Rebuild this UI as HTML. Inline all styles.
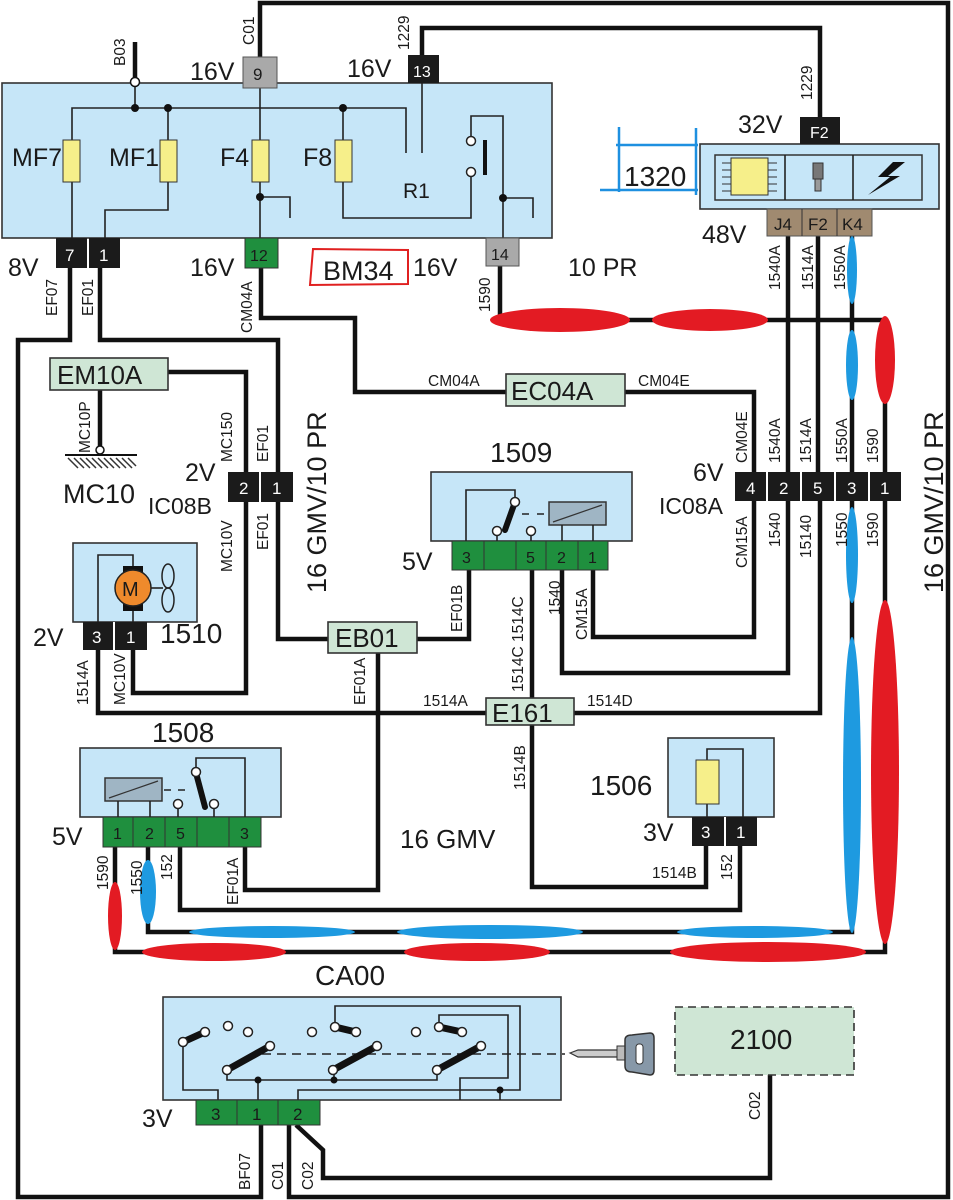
<!DOCTYPE html>
<html><head><meta charset="utf-8"><style>
html,body{margin:0;padding:0;background:#fff}
svg{display:block}
text{font-family:"Liberation Sans",Arial,sans-serif;fill:#1a1a1a}
.w{fill:none;stroke:#111;stroke-width:4.5}
.t{fill:none;stroke:#222;stroke-width:1.6}
.box{fill:#c6e6f8;stroke:#333;stroke-width:1.6}
.conn{fill:#cfe6d5;stroke:#333;stroke-width:1.6}
.bp{fill:#1b1b1b}
.gp{fill:#1f8f3e;stroke:#333;stroke-width:1}
.gy{fill:#a9a9a9;stroke:#555;stroke-width:1}
.br{fill:#a08a70;stroke:#555;stroke-width:1}
.r{fill:#e31b23}
.b{fill:#1e9ae0}
.s{font-size:15.5px}
.L{font-size:25px}
.XL{font-size:28px}
</style></head><body>
<svg width="953" height="1200" viewBox="0 0 953 1200" xmlns="http://www.w3.org/2000/svg">

<polyline class="w" points="260,57 260,3 948,3 948,1197 289,1197 289,1125"/>
<polyline class="w" points="261,1125 261,1197 18,1197 18,340 70,340 70,268"/>
<polyline class="w" points="422,55 422,28 820,28 820,117"/>
<polyline class="w" points="135,42 135,82"/>
<polyline class="w" points="100,268 100,340 278,340 278,639 330,639"/>
<polyline class="w" points="261,268 261,318 355,318 355,392 506,392"/>
<polyline class="w" points="625,392 754,392 754,472"/>
<polyline class="w" points="500,266 500,320 885,320 885,472"/>
<polyline class="w" points="788,236 788,472"/>
<polyline class="w" points="818,236 818,472"/>
<polyline class="w" points="852,236 852,472"/>
<polyline class="w" points="754,501 754,637 593,637 593,570"/>
<polyline class="w" points="788,501 788,673 562,673 562,570"/>
<polyline class="w" points="820,501 820,713 574,713"/>
<polyline class="w" points="852,501 852,932 148,932 148,847"/>
<polyline class="w" points="885,501 885,952 115,952 115,847"/>
<polyline class="w" points="469,570 469,639 417,639"/>
<polyline class="w" points="532,570 532,698"/>
<polyline class="w" points="532,725 532,887 706,887 706,846"/>
<polyline class="w" points="168,372 246,372 246,472"/>
<polyline class="w" points="100,390 100,450"/>
<polyline class="w" points="246,502 246,693 133,693 133,650"/>
<polyline class="w" points="98,650 98,713 486,713"/>
<polyline class="w" points="378,653 378,890 245,890 245,847"/>
<polyline class="w" points="180,847 180,910 740,910 740,846"/>
<polyline class="w" points="296,1125 323,1150 323,1178 770,1178 770,1075"/>

<ellipse class="r" cx="560" cy="320" rx="70" ry="12"/>
<ellipse class="r" cx="710" cy="320" rx="58" ry="11"/>
<ellipse class="r" cx="885" cy="360" rx="10" ry="44"/>
<ellipse class="r" cx="885" cy="772" rx="14" ry="172"/>
<ellipse class="r" cx="214" cy="952" rx="72" ry="9"/>
<ellipse class="r" cx="477" cy="952" rx="73" ry="9"/>
<ellipse class="r" cx="768" cy="952" rx="98" ry="10"/>
<ellipse class="r" cx="115" cy="916" rx="7" ry="34"/>
<ellipse class="b" cx="852" cy="270" rx="5" ry="34"/>
<ellipse class="b" cx="852" cy="365" rx="6" ry="35"/>
<ellipse class="b" cx="852" cy="555" rx="6" ry="48"/>
<ellipse class="b" cx="852" cy="785" rx="9" ry="148"/>
<ellipse class="b" cx="272" cy="932" rx="83" ry="6"/>
<ellipse class="b" cx="490" cy="932" rx="93" ry="7"/>
<ellipse class="b" cx="755" cy="932" rx="78" ry="6"/>
<ellipse class="b" cx="148" cy="892" rx="8" ry="32"/>

<rect class="box" x="2" y="83" width="550" height="155"/>
<polyline class="t" points="72,238 72,108 406,108 406,153"/>
<line class="t" x1="135" y1="82" x2="135" y2="108"/>
<polyline class="t" points="168,108 168,210 105,210 105,238"/>
<line class="t" x1="260" y1="88" x2="260" y2="238"/>
<polyline class="t" points="260,197 290,197 290,218"/>
<polyline class="t" points="343,108 343,218 471,218 471,176"/>
<line class="t" x1="422" y1="83" x2="422" y2="153"/>
<polyline class="t" points="471,137 471,116 503,116 503,238"/>
<polyline class="t" points="503,198 533,198 533,218"/>
<circle cx="135" cy="108" r="4" fill="#111"/><circle cx="168" cy="108" r="4" fill="#111"/>
<circle cx="343" cy="108" r="4" fill="#111"/><circle cx="260" cy="197" r="4" fill="#111"/>
<circle cx="503" cy="198" r="4" fill="#111"/>
<circle cx="135" cy="82" r="4.5" fill="#fff" stroke="#111" stroke-width="1.5"/>
<circle cx="471" cy="141" r="4.5" fill="#fff" stroke="#222" stroke-width="1.5"/>
<circle cx="471" cy="172" r="4.5" fill="#fff" stroke="#222" stroke-width="1.5"/>
<rect x="483" y="140" width="4" height="35" fill="#111"/>
<rect x="63" y="140" width="17" height="42" fill="#f6ef8a" stroke="#333"/>
<rect x="160" y="140" width="17" height="42" fill="#f6ef8a" stroke="#333"/>
<rect x="252" y="140" width="17" height="42" fill="#f6ef8a" stroke="#333"/>
<rect x="335" y="140" width="17" height="42" fill="#f6ef8a" stroke="#333"/>
<text x="12" y="166" class="L">MF7</text>
<text x="109" y="166" class="L">MF1</text>
<text x="220" y="166" class="L">F4</text>
<text x="303" y="166" class="L">F8</text>
<text x="403" y="198" style="font-size:21px">R1</text>
<rect class="gy" x="243" y="57" width="34" height="31"/><text x="253" y="80" style="font-size:17px">9</text>
<rect class="bp" x="408" y="55" width="31" height="28"/><text x="413" y="77" style="font-size:16px;fill:#fff">13</text>
<rect class="bp" x="56" y="238" width="31" height="30"/><text x="65" y="261" style="font-size:17px;fill:#fff">7</text>
<rect class="bp" x="89" y="238" width="31" height="30"/><text x="99" y="261" style="font-size:17px;fill:#fff">1</text>
<rect class="gp" x="245" y="238" width="33" height="30"/><text x="250" y="261" style="font-size:16px">12</text>
<rect class="gy" x="486" y="238" width="33" height="28"/><text x="491" y="260" style="font-size:16px">14</text>
<text x="190" y="80" class="L">16V</text>
<text x="347" y="77" class="L">16V</text>
<text x="8" y="276" class="L">8V</text>
<text x="190" y="276" class="L">16V</text>
<text x="413" y="276" class="L">16V</text>
<path d="M313,249 L408,250 L408,284 L310,285 Z" fill="none" stroke="#e02020" stroke-width="2"/>
<text x="323" y="280" style="font-size:27px">BM34</text>
<text x="568" y="276" class="L">10 PR</text>

<rect class="box" x="700" y="144" width="239" height="65"/>
<rect x="715" y="155" width="207" height="45" fill="none" stroke="#333" stroke-width="1.5"/>
<line class="t" x1="785" y1="155" x2="785" y2="200"/><line class="t" x1="853" y1="155" x2="853" y2="200"/>
<rect x="731" y="158" width="37" height="37" fill="#f6ef8a" stroke="#333"/>
<path d="M722,163h9M722,170h9M722,177h9M722,184h9M722,191h9M768,163h9M768,170h9M768,177h9M768,184h9M768,191h9" stroke="#333" stroke-width="1"/>
<rect x="813" y="163" width="10" height="16" fill="#777" stroke="#333"/><rect x="815" y="179" width="6" height="12" fill="#999" stroke="#333"/>
<path d="M893,162 L878,177 L890,177 L868,195 L900,176 L888,176 L905,162 Z" fill="#111"/>
<rect class="bp" x="800" y="117" width="40" height="27"/><text x="810" y="138" style="font-size:16px;fill:#fff">F2</text>
<rect class="br" x="767" y="209" width="105" height="27"/>
<line x1="802" y1="209" x2="802" y2="236" stroke="#333"/><line x1="837" y1="209" x2="837" y2="236" stroke="#333"/>
<text x="774" y="230" style="font-size:17px">J4</text><text x="808" y="230" style="font-size:17px">F2</text><text x="842" y="230" style="font-size:17px">K4</text>
<text x="738" y="133" class="L">32V</text>
<text x="702" y="243" class="L">48V</text>
<path d="M616,145 H698 M600,190 H698 M619,127 V192 M696,128 V195" stroke="#1e90e0" stroke-width="2.5" fill="none"/>
<text x="624" y="186" style="font-size:28px">1320</text>

<rect class="conn" x="506" y="374" width="119" height="32"/><text x="511" y="400" style="font-size:26px">EC04A</text>
<text x="428" y="386" class="s">CM04A</text><text x="638" y="386" class="s">CM04E</text>
<rect class="bp" x="735" y="472" width="166" height="29"/>
<path d="M767,472v29M801,472v29M835,472v29M869,472v29" stroke="#fff" stroke-width="2"/>
<text x="746" y="494" style="font-size:17px;fill:#fff">4</text><text x="779" y="494" style="font-size:17px;fill:#fff">2</text>
<text x="813" y="494" style="font-size:17px;fill:#fff">5</text><text x="847" y="494" style="font-size:17px;fill:#fff">3</text>
<text x="880" y="494" style="font-size:17px;fill:#fff">1</text>
<text x="693" y="481" class="L">6V</text>
<text x="659" y="514" style="font-size:23px">IC08A</text>
<text transform="translate(943,593) rotate(-90)" style="font-size:27px">16 GMV/10 PR</text>
<text transform="translate(326,593) rotate(-90)" style="font-size:27px">16 GMV/10 PR</text>

<rect class="box" x="431" y="472" width="201" height="69"/>
<rect class="gp" x="452" y="541" width="156" height="29"/>
<path d="M484,541v29M516,541v29M546,541v29M578,541v29" stroke="#333"/>
<text x="462" y="563" style="font-size:16px">3</text><text x="526" y="563" style="font-size:16px">5</text>
<text x="557" y="563" style="font-size:16px">2</text><text x="588" y="563" style="font-size:16px">1</text>
<polyline class="t" points="466,541 466,490 515,490 515,498"/>
<line class="t" x1="497" y1="541" x2="497" y2="535"/><line class="t" x1="531" y1="541" x2="531" y2="535"/>
<circle cx="497" cy="531" r="4.5" fill="#fff" stroke="#222" stroke-width="1.5"/>
<circle cx="531" cy="531" r="4.5" fill="#fff" stroke="#222" stroke-width="1.5"/>
<line x1="515" y1="502" x2="505" y2="530" stroke="#111" stroke-width="6" stroke-linecap="round"/>
<circle cx="515" cy="502" r="4.5" fill="#fff" stroke="#222" stroke-width="1.5"/>
<path d="M522,514h7M537,514h7" stroke="#222" stroke-width="1.5"/>
<rect x="549" y="502" width="57" height="23" fill="#9fb5c4" stroke="#333" stroke-width="1.5"/>
<line x1="553" y1="522" x2="602" y2="505" stroke="#333" stroke-width="1.2"/>
<line class="t" x1="562" y1="525" x2="562" y2="541"/><line class="t" x1="593" y1="525" x2="593" y2="541"/>
<text x="490" y="462" class="XL">1509</text>
<text x="402" y="570" class="L">5V</text>

<rect class="conn" x="50" y="358" width="118" height="32"/><text x="57" y="384" style="font-size:26px">EM10A</text>
<circle cx="100" cy="450" r="4" fill="#fff" stroke="#111" stroke-width="1.5"/>
<line x1="65" y1="455" x2="137" y2="455" stroke="#111" stroke-width="2"/>
<path d="M68,458l10,10M74,458l10,10M80,458l10,10M86,458l10,10M92,458l10,10M98,458l10,10M104,458l10,10M110,458l10,10M116,458l10,10M122,458l10,10M128,458l8,8" stroke="#333" stroke-width="1.5"/>
<text x="63" y="503" style="font-size:27px">MC10</text>
<rect class="bp" x="228" y="472" width="65" height="30"/><line x1="260" y1="472" x2="260" y2="502" stroke="#fff" stroke-width="2"/>
<text x="239" y="494" style="font-size:17px;fill:#fff">2</text><text x="272" y="494" style="font-size:17px;fill:#fff">1</text>
<text x="185" y="481" class="L">2V</text>
<text x="148" y="514" style="font-size:23px">IC08B</text>
<rect class="box" x="73" y="543" width="124" height="79"/>
<polyline class="t" points="98,622 98,555 133,555 133,622"/>
<rect x="123" y="566" width="20" height="45" fill="#111"/>
<circle cx="133" cy="588" r="18" fill="#ef8a2c" stroke="#222" stroke-width="1.5"/>
<text x="122" y="596" style="font-size:20px">M</text>
<line class="t" x1="151" y1="588" x2="163" y2="588"/>
<ellipse cx="168" cy="576" rx="6" ry="12" fill="none" stroke="#222" stroke-width="1.5"/>
<ellipse cx="168" cy="600" rx="6" ry="12" fill="none" stroke="#222" stroke-width="1.5"/>
<rect class="bp" x="83" y="622" width="64" height="28"/><line x1="114" y1="622" x2="114" y2="650" stroke="#fff" stroke-width="2"/>
<text x="92" y="643" style="font-size:17px;fill:#fff">3</text><text x="126" y="643" style="font-size:17px;fill:#fff">1</text>
<text x="160" y="643" class="XL">1510</text>
<text x="33" y="646" class="L">2V</text>
<rect class="conn" x="328" y="622" width="89" height="31"/><text x="335" y="647" style="font-size:26px">EB01</text>
<rect class="conn" x="486" y="698" width="88" height="27"/><text x="492" y="722" style="font-size:26px">E161</text>
<text x="423" y="706" class="s">1514A</text><text x="587" y="706" class="s">1514D</text>

<rect class="box" x="80" y="748" width="201" height="69"/>
<rect class="gp" x="103" y="817" width="158" height="30"/>
<path d="M133,817v30M165,817v30M197,817v30M229,817v30" stroke="#333"/>
<text x="113" y="839" style="font-size:16px">1</text><text x="145" y="839" style="font-size:16px">2</text>
<text x="176" y="839" style="font-size:16px">5</text><text x="240" y="839" style="font-size:16px">3</text>
<rect x="105" y="778" width="57" height="23" fill="#9fb5c4" stroke="#333" stroke-width="1.5"/>
<line x1="109" y1="798" x2="158" y2="781" stroke="#333" stroke-width="1.2"/>
<line class="t" x1="118" y1="801" x2="118" y2="817"/><line class="t" x1="150" y1="801" x2="150" y2="817"/>
<path d="M164,790h7M178,790h7" stroke="#222" stroke-width="1.5"/>
<line class="t" x1="178" y1="809" x2="178" y2="817"/><line class="t" x1="214" y1="809" x2="214" y2="817"/>
<circle cx="178" cy="804" r="4.5" fill="#fff" stroke="#222" stroke-width="1.5"/>
<line x1="196" y1="773" x2="205" y2="807" stroke="#111" stroke-width="6" stroke-linecap="round"/>
<circle cx="214" cy="804" r="4.5" fill="#fff" stroke="#222" stroke-width="1.5"/>
<polyline class="t" points="196,769 196,758 245,758 245,817"/>
<circle cx="196" cy="772" r="4.5" fill="#fff" stroke="#222" stroke-width="1.5"/>
<text x="152" y="742" class="XL">1508</text>
<text x="52" y="845" class="L">5V</text>
<text x="400" y="848" style="font-size:26px">16 GMV</text>

<rect class="box" x="668" y="738" width="106" height="79"/>
<polyline class="t" points="707,817 707,749 743,749 743,817"/>
<rect x="696" y="760" width="23" height="44" fill="#f6ef8a" stroke="#333"/>
<rect class="bp" x="692" y="817" width="65" height="29"/><line x1="725" y1="817" x2="725" y2="846" stroke="#fff" stroke-width="2"/>
<text x="701" y="838" style="font-size:17px;fill:#fff">3</text><text x="736" y="838" style="font-size:17px;fill:#fff">1</text>
<text x="590" y="795" class="XL">1506</text>
<text x="643" y="841" class="L">3V</text>

<rect class="box" x="163" y="997" width="398" height="103"/>
<polyline class="t" points="183,1042 183,1090 218,1090 218,1100"/>
<polyline class="t" points="227,1070 227,1080 437,1080 437,1070"/>
<line class="t" x1="258" y1="1080" x2="258" y2="1100"/>
<line class="t" x1="334" y1="1070" x2="334" y2="1080"/>
<polyline class="t" points="335,1027 335,1006 520,1006 520,1090 298,1090 298,1100"/>
<polyline class="t" points="439,1027 439,1015 508,1015 508,1078 460,1078 460,1100"/>
<line class="t" x1="500" y1="1090" x2="500" y2="1100"/>
<circle cx="258" cy="1080" r="3.5" fill="#111"/><circle cx="334" cy="1080" r="3.5" fill="#111"/><circle cx="500" cy="1090" r="3.5" fill="#111"/>
<line x1="262" y1="1054" x2="565" y2="1054" stroke="#222" stroke-width="1.6" stroke-dasharray="9,6"/>
<g stroke="#111" stroke-width="7" stroke-linecap="round">
<line x1="183" y1="1042" x2="205" y2="1032"/><line x1="227" y1="1070" x2="270" y2="1046"/>
<line x1="335" y1="1027" x2="356" y2="1032"/><line x1="333" y1="1070" x2="377" y2="1046"/>
<line x1="439" y1="1027" x2="462" y2="1032"/><line x1="437" y1="1070" x2="481" y2="1046"/>
</g>
<g fill="#fff" stroke="#222" stroke-width="1.5">
<circle cx="183" cy="1042" r="4.5"/><circle cx="205" cy="1032" r="4.5"/><circle cx="228" cy="1026" r="4.5"/><circle cx="248" cy="1032" r="4.5"/>
<circle cx="227" cy="1070" r="4.5"/><circle cx="270" cy="1046" r="4.5"/>
<circle cx="312" cy="1032" r="4.5"/><circle cx="335" cy="1027" r="4.5"/><circle cx="356" cy="1032" r="4.5"/>
<circle cx="333" cy="1070" r="4.5"/><circle cx="377" cy="1046" r="4.5"/>
<circle cx="416" cy="1032" r="4.5"/><circle cx="439" cy="1027" r="4.5"/><circle cx="462" cy="1032" r="4.5"/>
<circle cx="437" cy="1070" r="4.5"/><circle cx="481" cy="1046" r="4.5"/>
</g>
<rect class="gp" x="196" y="1100" width="124" height="25"/>
<path d="M237,1100v25M278,1100v25" stroke="#333"/>
<text x="211" y="1120" style="font-size:17px">3</text><text x="252" y="1120" style="font-size:17px">1</text><text x="293" y="1120" style="font-size:17px">2</text>
<text x="315" y="985" class="XL">CA00</text>
<text x="142" y="1127" class="L">3V</text>
<path d="M570,1053 L578,1050 L620,1050 L620,1057 L578,1057 Z" fill="#ccc" stroke="#333" stroke-width="1.2"/>
<rect x="617" y="1046" width="8" height="14" fill="#bbb" stroke="#333"/>
<path d="M625,1040 Q625,1035 632,1035 L650,1033 Q654,1033 654,1038 L654,1070 Q654,1075 650,1075 L632,1072 Q625,1072 625,1066 Z" fill="#8798a8" stroke="#333" stroke-width="1.5"/>
<rect x="636" y="1044" width="7" height="20" rx="3" fill="#fff" stroke="#333"/>
<rect x="675" y="1007" width="179" height="68" fill="#cfe6d5" stroke="#333" stroke-width="1.6" stroke-dasharray="8,5"/>
<text x="730" y="1049" class="XL">2100</text>

<g class="s">
<text transform="translate(125,66) rotate(-90)">B03</text>
<text transform="translate(254,45) rotate(-90)">C01</text>
<text transform="translate(409,50) rotate(-90)">1229</text>
<text transform="translate(812,100) rotate(-90)">1229</text>
<text transform="translate(57,316) rotate(-90)">EF07</text>
<text transform="translate(93,316) rotate(-90)">EF01</text>
<text transform="translate(252,333) rotate(-90)">CM04A</text>
<text transform="translate(490,312) rotate(-90)">1590</text>
<text transform="translate(780,290) rotate(-90)">1540A</text>
<text transform="translate(813,290) rotate(-90)">1514A</text>
<text transform="translate(845,290) rotate(-90)">1550A</text>
<text transform="translate(747,463) rotate(-90)">CM04E</text>
<text transform="translate(780,463) rotate(-90)">1540A</text>
<text transform="translate(811,463) rotate(-90)">1514A</text>
<text transform="translate(847,463) rotate(-90)">1550A</text>
<text transform="translate(878,463) rotate(-90)">1590</text>
<text transform="translate(747,568) rotate(-90)">CM15A</text>
<text transform="translate(780,547) rotate(-90)">1540</text>
<text transform="translate(811,558) rotate(-90)">15140</text>
<text transform="translate(847,547) rotate(-90)">1550</text>
<text transform="translate(878,547) rotate(-90)">1590</text>
<text transform="translate(462,632) rotate(-90)">EF01B</text>
<text transform="translate(523,692) rotate(-90)">1514C 1514C</text>
<text transform="translate(560,615) rotate(-90)">1540</text>
<text transform="translate(587,640) rotate(-90)">CM15A</text>
<text transform="translate(90,453) rotate(-90)">MC10P</text>
<text transform="translate(232,462) rotate(-90)">MC150</text>
<text transform="translate(268,462) rotate(-90)">EF01</text>
<text transform="translate(232,572) rotate(-90)">MC10V</text>
<text transform="translate(268,550) rotate(-90)">EF01</text>
<text transform="translate(88,705) rotate(-90)">1514A</text>
<text transform="translate(125,705) rotate(-90)">MC10V</text>
<text transform="translate(365,705) rotate(-90)">EF01A</text>
<text transform="translate(108,890) rotate(-90)">1590</text>
<text transform="translate(142,895) rotate(-90)">1550</text>
<text transform="translate(172,880) rotate(-90)">152</text>
<text transform="translate(238,905) rotate(-90)">EF01A</text>
<text transform="translate(525,790) rotate(-90)">1514B</text>
<text x="652" y="878">1514B</text>
<text transform="translate(732,880) rotate(-90)">152</text>
<text transform="translate(250,1190) rotate(-90)">BF07</text>
<text transform="translate(283,1190) rotate(-90)">C01</text>
<text transform="translate(313,1190) rotate(-90)">C02</text>
<text transform="translate(760,1120) rotate(-90)">C02</text>
</g>
</svg>
</body></html>
